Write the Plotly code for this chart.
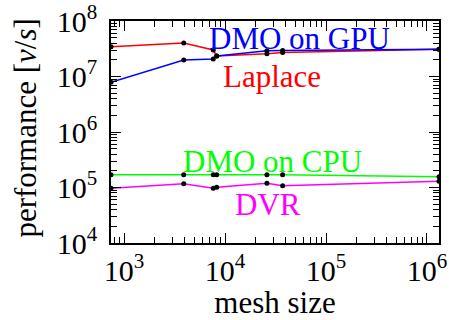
import math
import plotly.graph_objects as go

mesh_size = [743, 3900, 7650, 8280, 26000, 37200, 1315000]
laplace = [3.44e7, 4.0e7, 3.0e7, 2.34e7, 2.57e7, 2.7e7, 3.1e7]
dmo_gpu = [7.9e6, 1.98e7, 2.07e7, 2.34e7, 2.9e7, 2.95e7, 3.1e7]
dmo_cpu = [1.70e5, 1.70e5, 1.70e5, 1.70e5, 1.70e5, 1.70e5, 1.57e5]
dvr = [9.7e4, 1.17e5, 9.7e4, 1.01e5, 1.19e5, 1.08e5, 1.29e5]

series = [
    ("Laplace", laplace, "#ff0000"),
    ("DMO on GPU", dmo_gpu, "#0000ff"),
    ("DMO on CPU", dmo_cpu, "#00ff00"),
    ("DVR", dvr, "#ff00ff"),
]

# label positions (data coords)
labels = [
    ("DMO on GPU", 55000, 10**7.69, "#0000ff"),
    ("Laplace", 29500, 10**7.0, "#ff0000"),
    ("DMO on CPU", 29500, 10**5.46, "#00ff00"),
    ("DVR", 26700, 10**4.69, "#ff00ff"),
]

x_tick_vals = [1e3, 1e4, 1e5, 1e6]
x_tick_text = ["10<sup>3</sup>", "10<sup>4</sup>", "10<sup>5</sup>", "10<sup>6</sup>"]
y_tick_vals = [1e4, 1e5, 1e6, 1e7, 1e8]
y_tick_text = ["10<sup>4</sup>", "10<sup>5</sup>", "10<sup>6</sup>", "10<sup>7</sup>", "10<sup>8</sup>"]

def minor_vals(lo, hi):
    out = []
    for e in range(lo, hi + 1):
        for m in range(2, 10):
            out.append(m * 10**e)
    return out

FONT = "Liberation Serif"

fig = go.Figure()
for name, ys, col in series:
    fig.add_trace(go.Scatter(
        x=mesh_size, y=ys, mode="lines+markers", name=name,
        line=dict(color=col, width=1.5),
        marker=dict(color="black", size=5),
    ))

for text, x, y, col in labels:
    fig.add_annotation(x=math.log10(x), y=math.log10(y), text=text, showarrow=False,
                       font=dict(family=FONT, size=31, color=col),
                       xanchor="center", yanchor="middle")

# y-axis title as rotated annotation
fig.add_annotation(x=-0.262, y=0.52, xref="paper", yref="paper",
                   text="performance [<i>v</i>/<i>s</i>]", textangle=-90, showarrow=False,
                   font=dict(family=FONT, size=31, color="black"),
                   xanchor="center", yanchor="middle")

axis_common = dict(
    type="log", showgrid=False, zeroline=False, automargin=False,
    showline=True, linecolor="black", linewidth=1.5, mirror="allticks",
    ticks="inside", ticklen=10, tickwidth=1, tickcolor="black",
    ticklabeloverflow="allow",
    tickfont=dict(family=FONT, size=30, color="black"),
)

fig.update_xaxes(
    **axis_common,
    range=[math.log10(min(mesh_size)), math.log10(max(mesh_size))],
    tickmode="array", tickvals=x_tick_vals, ticktext=x_tick_text,
    minor=dict(ticks="inside", ticklen=6, tickcolor="black", tickwidth=1,
               tickmode="array", tickvals=minor_vals(2, 6)),
    title=dict(text="mesh size", font=dict(family=FONT, size=31, color="black"), standoff=2),
)
fig.update_yaxes(
    **axis_common,
    range=[4, 8],
    ticklabelstandoff=6,
    tickmode="array", tickvals=y_tick_vals, ticktext=y_tick_text,
    minor=dict(ticks="inside", ticklen=6, tickcolor="black", tickwidth=1,
               tickmode="array", tickvals=minor_vals(4, 7)),
)

fig.update_layout(
    width=449, height=320,
    margin=dict(l=111, r=10, t=21, b=77),
    paper_bgcolor="white", plot_bgcolor="white",
    font=dict(family=FONT, size=30, color="black"),
    showlegend=False,
)

fig.write_html("out.html", config={"displayModeBar": False},
               post_script="document.body.style.margin='0';document.body.style.padding='0';")
